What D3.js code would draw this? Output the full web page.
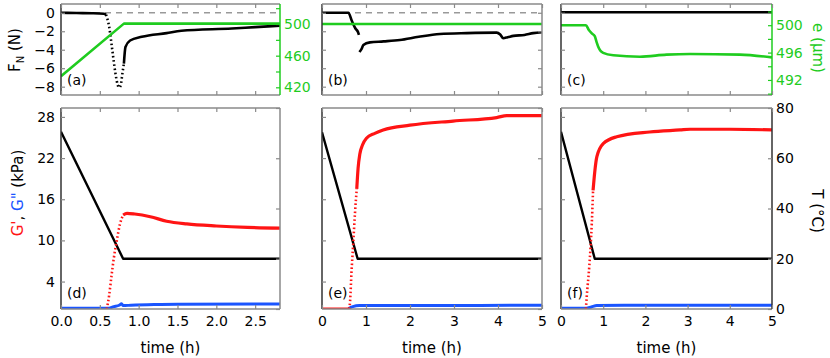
<!DOCTYPE html>
<html>
<head>
<meta charset="utf-8">
<script src="https://cdn.jsdelivr.net/npm/d3@7"></script>
<style>
  body { margin: 0; background: #fff; }
  text { font-family: "DejaVu Sans", Verdana, sans-serif; }
</style>
</head>
<body>
<svg id="chart" width="830" height="358"></svg>
<script>
// ---- tick values ----
const timeTicksShort = [0, 0.5, 1, 1.5, 2, 2.5];
const timeTicksLong = [0, 1, 2, 3, 4, 5];
const fnTicks = [0, -2, -4, -6, -8];
const eTicksA = [420, 440, 460, 480, 500, 520];
const eLabelsA = [420, 460, 500];
const eTicksC = [490, 492, 494, 496, 498, 500, 502];
const eLabelsC = [492, 496, 500];
const gTicks = [4, 10, 16, 22, 28];
const tempTicks = [0, 20, 40, 60, 80];

// ---- panel (a): normal force and gap, short run ----
const fnA_flat = [[0, 0], [0.2, -0.03], [0.4, -0.05], [0.55, -0.1], [0.58, -0.2]];
const fnA_drop = [[0.58, -0.2], [0.62, -1.5], [0.66, -4], [0.7, -6.5], [0.73, -7.8], [0.75, -8.1], [0.77, -7.8], [0.79, -6.6], [0.81, -5.5]];
const fnA_main = [[0.81, -5.5], [0.83, -3.7], [0.89, -3.0], [1.04, -2.6], [1.36, -2.2], [1.55, -1.95], [2.2, -1.7], [2.5, -1.55], [2.82, -1.4]];
const gapA = [[0, 434], [0.81, 500.5], [2.82, 500.5]];

// ---- panel (b) ----
const fnB_pre = [[0, 0], [0.6, 0], [0.68, -0.9], [0.76, -1.7], [0.82, -2.1], [0.84, -2.4]];
const fnB_post = [[0.85, -4.25], [0.9, -3.9], [0.94, -3.5], [1.09, -3.2], [1.4, -3.1], [1.77, -2.95], [2.2, -2.6], [2.68, -2.3], [3.29, -2.2], [3.97, -2.15], [4.05, -2.35], [4.12, -2.75], [4.22, -2.65], [4.35, -2.5], [4.6, -2.4], [4.8, -2.2], [5, -2.1]];
const gapB = [[0, 500], [5, 500]];

// ---- panel (c) ----
const fnC = [[0, 0.05], [1, 0.05], [2, 0.06], [3, 0.05], [4, 0.06], [5, 0.05]];
const gapC = [[0, 500], [0.59, 500], [0.66, 499.3], [0.73, 498.8], [0.8, 498.4], [0.84, 497.6], [0.88, 496.9], [0.93, 496.3], [1.0, 495.95], [1.24, 495.6], [1.87, 495.4], [2.5, 495.7], [3.06, 495.8], [4.24, 495.7], [5, 495.3]];

// ---- panel (d): moduli and temperature ----
const tempD = [[0, 70.5], [0.8, 20], [2.82, 20]];
const gpD_base = [[0, 0], [0.59, 0]];
const gpD_rise = [[0.59, 0], [0.62, 2], [0.65, 4.8], [0.68, 7.4], [0.72, 10.1], [0.76, 12.4], [0.8, 13.7]];
const gpD_main = [[0.8, 13.7], [0.85, 13.95], [0.95, 13.85], [1.15, 13.45], [1.36, 12.8], [1.62, 12.4], [2.0, 12.1], [2.4, 11.9], [2.82, 11.8]];
const gppD = [[0, 0.1], [0.6, 0.1], [0.68, 0.35], [0.75, 0.55], [0.78, 0.75], [0.8, 0.5], [0.9, 0.55], [1.2, 0.65], [1.5, 0.7], [2.82, 0.72]];

// ---- panel (e) ----
const tempE = [[0, 70.3], [0.81, 20], [5, 20]];
const gpE_base = [[0, 0], [0.62, 0]];
const gpE_rise = [[0.62, 0], [0.64, 1.3], [0.67, 5.3], [0.71, 9.6], [0.75, 14], [0.79, 17.5]];
const gpE_main = [[0.79, 17.5], [0.82, 20.5], [0.86, 22.6], [0.92, 23.9], [1.01, 24.9], [1.2, 25.6], [1.39, 26.1], [2.0, 26.8], [2.98, 27.4], [3.97, 27.9], [4.2, 28.2], [5, 28.2]];
const gppE = [[0.6, 0.05], [0.7, 0.35], [0.85, 0.5], [1.5, 0.5], [5, 0.55]];

// ---- panel (f) ----
const tempF = [[0, 70.5], [0.8, 20], [5, 20]];
const gpF_base = [[0, 0], [0.59, 0]];
const gpF_rise = [[0.59, 0], [0.61, 1.8], [0.67, 6.2], [0.73, 12.5], [0.76, 17.3]];
const gpF_main = [[0.76, 17.3], [0.8, 20], [0.85, 22.2], [1.0, 24.1], [1.32, 25.1], [2.1, 25.8], [2.82, 26.1], [3.06, 26.2], [4, 26.2], [5, 26.1]];
const gppF = [[0, 0.1], [0.6, 0.1], [0.72, 0.3], [0.85, 0.5], [1.5, 0.55], [5, 0.55]];

const GREEN = "#1fcc1f", RED = "#ff1414", BLUE = "#1a55ff", FRAME = "#8a8a8a";

const svg = d3.select("#chart");

// column layout
const cols = [
  {x0: 61, x1: 280, tmax: 2.82, ticks: timeTicksShort, fmt: d3.format(".1f")},
  {x0: 322, x1: 542, tmax: 5, ticks: timeTicksLong, fmt: d3.format("d")},
  {x0: 561, x1: 772, tmax: 5, ticks: timeTicksLong, fmt: d3.format("d")}
];
cols.forEach(c => c.x = d3.scaleLinear().domain([0, c.tmax]).range([c.x0, c.x1]));

const rowTop = {y0: 4, y1: 95};
const rowBot = {y0: 108, y1: 309};

const yF = d3.scaleLinear().domain([-8.9, 0.95]).range([rowTop.y1, rowTop.y0]);
const yEa = d3.scaleLinear().domain([410.3, 525.3]).range([rowTop.y1, rowTop.y0]);
const yEc = d3.scaleLinear().domain([489.8, 503.1]).range([rowTop.y1, rowTop.y0]);
const yG = d3.scaleLinear().domain([0, 29.3]).range([rowBot.y1, rowBot.y0]);
const yT = d3.scaleLinear().domain([0, 80]).range([rowBot.y1, rowBot.y0]);

// smooth = measured curve, otherwise straight segments (set-point profiles)
function curve(g, data, x, y, color, width, dash, smooth) {
  const line = d3.line().x(d => x(d[0])).y(d => y(d[1]))
    .curve(smooth ? d3.curveMonotoneX : d3.curveLinear);
  g.append("path")
    .datum(data)
    .attr("d", line)
    .attr("fill", "none")
    .attr("stroke", color)
    .attr("stroke-width", width)
    .attr("stroke-linejoin", "round")
    .attr("stroke-dasharray", dash || null);
}

function styleAxis(sel, color, fill) {
  sel.select(".domain").remove();
  sel.selectAll(".tick line").attr("stroke", color).attr("stroke-width", 1.2);
  sel.selectAll(".tick text").attr("fill", fill).attr("font-size", 14);
}

function frame(c, r, rightColor) {
  const g = svg.append("g");
  const x0 = c.x0, x1 = c.x1;
  g.append("line").attr("x1", x0).attr("x2", x1).attr("y1", r.y0).attr("y2", r.y0).attr("stroke", FRAME).attr("stroke-width", 1.5);
  g.append("line").attr("x1", x0).attr("x2", x1).attr("y1", r.y1).attr("y2", r.y1).attr("stroke", FRAME).attr("stroke-width", 1.5);
  g.append("line").attr("x1", x0).attr("x2", x0).attr("y1", r.y0).attr("y2", r.y1).attr("stroke", "#333").attr("stroke-width", 1.5);
  g.append("line").attr("x1", x1).attr("x2", x1).attr("y1", r.y0).attr("y2", r.y1).attr("stroke", rightColor).attr("stroke-width", 1.5);
}

function timeAxes(c, r, labels) {
  const b = svg.append("g").attr("transform", `translate(0,${r.y1})`)
    .call(d3.axisBottom(c.x).tickValues(c.ticks).tickSizeInner(-4).tickSizeOuter(0).tickPadding(7)
      .tickFormat(labels ? c.fmt : ""));
  styleAxis(b, FRAME, "#000");
  const t = svg.append("g").attr("transform", `translate(0,${r.y0})`)
    .call(d3.axisTop(c.x).tickValues(c.ticks).tickSizeInner(-4).tickSizeOuter(0).tickFormat(""));
  styleAxis(t, FRAME, "#000");
}

function leftAxis(c, y, ticks, labels) {
  const a = svg.append("g").attr("transform", `translate(${c.x0},0)`)
    .call(d3.axisLeft(y).tickValues(ticks).tickSizeInner(-4).tickSizeOuter(0).tickPadding(6)
      .tickFormat(labels ? d3.format("d") : ""));
  styleAxis(a, FRAME, "#000");
}

function rightAxis(c, y, ticks, labelVals, color) {
  const a = svg.append("g").attr("transform", `translate(${c.x1},0)`)
    .call(d3.axisRight(y).tickValues(ticks).tickSizeInner(-4).tickSizeOuter(0).tickPadding(4)
      .tickFormat(v => labelVals && labelVals.includes(v) ? d3.format("d")(v) : ""));
  styleAxis(a, color === "#000" ? FRAME : color, color);
}

function letter(c, txt, yy) {
  svg.append("text").attr("x", c.x0 + 6).attr("y", yy).attr("font-size", 14).text(txt);
}

// clip paths so curves stay inside frames
function clipFor(id, c, r) {
  svg.append("clipPath").attr("id", id).append("rect")
    .attr("x", c.x0).attr("y", r.y0).attr("width", c.x1 - c.x0).attr("height", r.y1 - r.y0);
  return svg.append("g").attr("clip-path", `url(#${id})`);
}

// ===== top row =====
const topPanels = [
  {c: cols[0], yE: yEa, letter: "(a)", dashed: true,
   fn: [[fnA_flat], [fnA_drop, "1.6,2.6"], [fnA_main]], gap: gapA, gapSmooth: false, right: GREEN, eTicks: eTicksA, eLabels: eLabelsA, leftLabels: true},
  {c: cols[1], yE: yEa, letter: "(b)", dashed: true,
   fn: [[fnB_pre], [fnB_post]], gap: gapB, gapSmooth: false, right: FRAME, eTicks: eTicksA, eLabels: null, leftLabels: false},
  {c: cols[2], yE: yEc, letter: "(c)", dashed: false,
   fn: [[fnC]], gap: gapC, gapSmooth: true, right: GREEN, eTicks: eTicksC, eLabels: eLabelsC, leftLabels: false}
];

topPanels.forEach((p, i) => {
  const g = clipFor("ct" + i, p.c, rowTop);
  if (p.dashed) {
    g.append("line").attr("x1", p.c.x0).attr("x2", p.c.x1)
      .attr("y1", yF(0)).attr("y2", yF(0))
      .attr("stroke", "#999").attr("stroke-width", 1.5).attr("stroke-dasharray", "6,5");
  }
  p.fn.forEach(s => curve(g, s[0], p.c.x, yF, "#000", 2.6, s[1], true));
  curve(g, p.gap, p.c.x, p.yE, GREEN, 2.6, null, p.gapSmooth);
  frame(p.c, rowTop, p.right);
  timeAxes(p.c, rowTop, false);
  leftAxis(p.c, yF, fnTicks, p.leftLabels);
  if (p.right === GREEN) rightAxis(p.c, p.yE, p.eTicks, p.eLabels, GREEN);
  else rightAxis(p.c, yF, fnTicks, null, "#000");
  letter(p.c, p.letter, 85);
});

// ===== bottom row =====
const botPanels = [
  {c: cols[0], temp: tempD, base: gpD_base, rise: gpD_rise, main: gpD_main, gpp: gppD, letter: "(d)", redOver: false, leftLabels: true, rightLabels: false},
  {c: cols[1], temp: tempE, base: gpE_base, rise: gpE_rise, main: gpE_main, gpp: gppE, letter: "(e)", redOver: true, leftLabels: false, rightLabels: false},
  {c: cols[2], temp: tempF, base: gpF_base, rise: gpF_rise, main: gpF_main, gpp: gppF, letter: "(f)", redOver: false, leftLabels: false, rightLabels: true}
];

botPanels.forEach((p, i) => {
  const g = clipFor("cb" + i, p.c, rowBot);
  curve(g, p.temp, p.c.x, yT, "#000", 2.4);
  if (!p.redOver) curve(g, p.base, p.c.x, yG, RED, 3);
  curve(g, p.gpp, p.c.x, yG, BLUE, 3, null, true);
  if (p.redOver) curve(g, p.base, p.c.x, yG, RED, 3);
  curve(g, p.rise, p.c.x, yG, RED, 2.6, "1.6,2.4", true);
  curve(g, p.main, p.c.x, yG, RED, 3.2, null, true);
  frame(p.c, rowBot, i === 2 ? "#333" : FRAME);
  timeAxes(p.c, rowBot, true);
  leftAxis(p.c, yG, gTicks, p.leftLabels);
  rightAxis(p.c, yT, tempTicks, p.rightLabels ? tempTicks : null, "#000");
  letter(p.c, p.letter, 298);
});

// ===== axis titles =====
const fnTitle = svg.append("text").attr("font-size", 15)
  .attr("transform", "translate(20,50) rotate(-90)").attr("text-anchor", "middle");
fnTitle.append("tspan").text("F");
fnTitle.append("tspan").attr("font-size", 10).attr("dy", 4).text("N");
fnTitle.append("tspan").attr("dy", -4).text(" (N)");

const gTitle = svg.append("text").attr("font-size", 15)
  .attr("transform", "translate(23,193) rotate(-90)").attr("text-anchor", "middle");
gTitle.append("tspan").attr("fill", RED).text("G'");
gTitle.append("tspan").attr("fill", "#000").text(", ");
gTitle.append("tspan").attr("fill", BLUE).text("G\"");
gTitle.append("tspan").attr("fill", "#000").text(" (kPa)");

svg.append("text").attr("font-size", 15).attr("fill", GREEN)
  .attr("transform", "translate(813,48) rotate(90)").attr("text-anchor", "middle")
  .text("e (µm)");

svg.append("text").attr("font-size", 15).attr("fill", "#000")
  .attr("transform", "translate(812,211) rotate(90)").attr("text-anchor", "middle")
  .text("T (°C)");

cols.forEach(c => {
  svg.append("text").attr("font-size", 15).attr("text-anchor", "middle")
    .attr("x", (c.x0 + c.x1) / 2).attr("y", 353).text("time (h)");
});
</script>
</body>
</html>
